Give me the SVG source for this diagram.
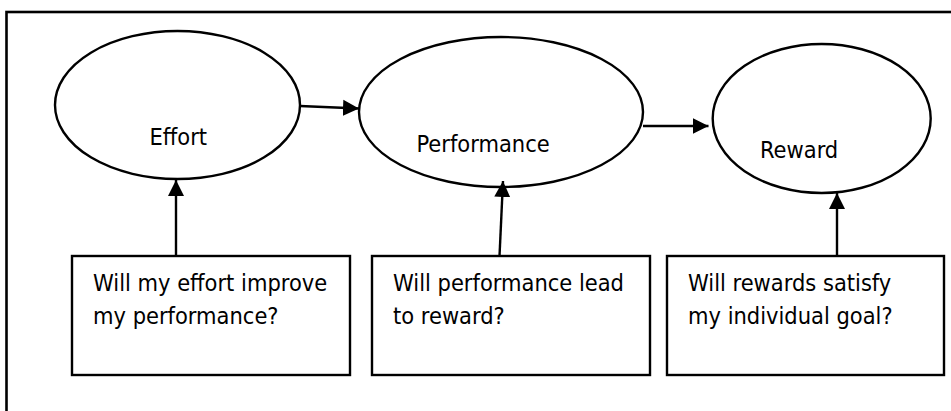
<svg xmlns="http://www.w3.org/2000/svg" width="951" height="411" viewBox="0 0 951 411">
<style>
.shape{fill:#fff;stroke:#000;stroke-width:2.4}
.conn{stroke:#000;stroke-width:2.4;fill:none;marker-end:url(#ah)}
text{font-family:"DejaVu Sans Condensed","DejaVu Sans",sans-serif;font-size:23.4px;fill:#000}
</style>
<defs>
<marker id="ah" markerUnits="userSpaceOnUse" markerWidth="18" markerHeight="18" refX="16" refY="8" orient="auto" viewBox="0 0 18 16">
<path d="M0,0 L16,8 L0,16 Z" fill="#000"/>
</marker>
</defs>
<rect x="0" y="0" width="951" height="411" fill="#fff"/>
<rect id="frame" x="6.5" y="12" width="960" height="420" fill="none" stroke="#000" stroke-width="2.6"/>
<g id="effort">
<ellipse class="shape" cx="177.5" cy="105" rx="122.5" ry="74"/>
<text x="149.5" y="145">Effort</text>
</g>
<g id="performance">
<ellipse class="shape" cx="501" cy="112" rx="142" ry="75"/>
<text x="416.5" y="152">Performance</text>
</g>
<g id="reward">
<ellipse class="shape" cx="821.7" cy="118.5" rx="109" ry="74.5"/>
<text x="760" y="158">Reward</text>
</g>
<g id="q1">
<rect class="shape" x="72" y="256" width="278" height="119"/>
<text x="93" y="291">Will my effort improve</text>
<text x="93" y="324">my performance?</text>
</g>
<g id="q2">
<rect class="shape" x="372" y="256" width="278" height="119"/>
<text x="393" y="291">Will performance lead</text>
<text x="393" y="324">to reward?</text>
</g>
<g id="q3">
<rect class="shape" x="667" y="256" width="277" height="119"/>
<text x="688" y="291">Will rewards satisfy</text>
<text x="688" y="324">my individual goal?</text>
</g>
<g id="connectors">
<line class="conn" x1="300" y1="106" x2="359" y2="108.5"/>
<line class="conn" x1="643" y1="126" x2="708.5" y2="126"/>
<line class="conn" x1="176" y1="256" x2="176" y2="180"/>
<line class="conn" x1="499.5" y1="256" x2="503" y2="181"/>
<line class="conn" x1="837" y1="256" x2="837" y2="193"/>
</g>
</svg>
